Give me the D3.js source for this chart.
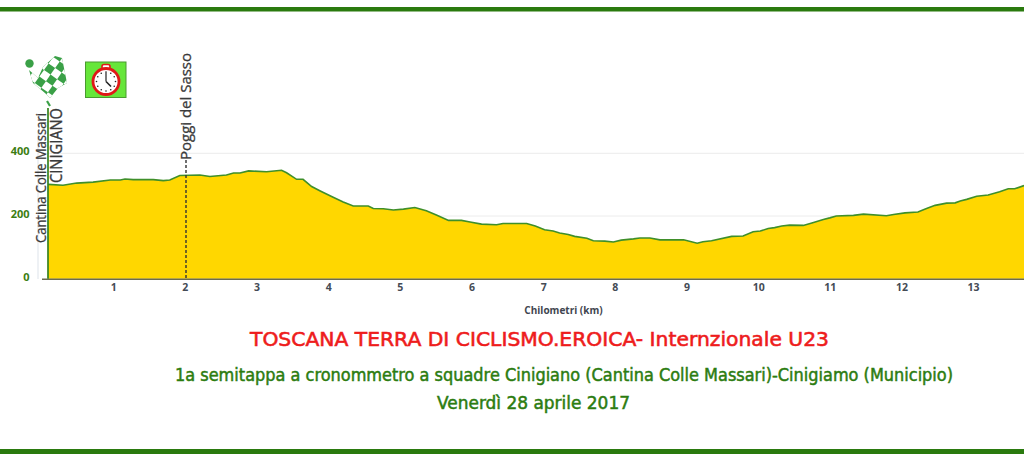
<!DOCTYPE html>
<html><head><meta charset="utf-8">
<script src="https://cdn.jsdelivr.net/npm/d3@7"></script>
<style>html,body{margin:0;padding:0;background:#fff;overflow:hidden}svg{display:block}</style>
</head><body><svg id="c" width="1024" height="460"></svg>
<script>
const km = [0.095,0.30,0.49,0.72,0.96,1.10,1.165,1.28,1.56,1.70,1.79,1.93,2.21,2.35,2.58,2.68,2.77,2.89,3.14,3.35,3.42,3.56,3.65,3.77,3.89,4.07,4.21,4.35,4.56,4.63,4.77,4.91,5.05,5.21,5.37,5.51,5.68,5.86,5.98,6.14,6.35,6.44,6.77,6.89,7.02,7.14,7.23,7.35,7.44,7.61,7.70,7.86,7.98,8.09,8.26,8.35,8.49,8.63,8.96,9.15,9.23,9.35,9.63,9.79,9.93,10.03,10.14,10.23,10.33,10.44,10.63,10.75,10.91,11.0,11.09,11.33,11.47,11.79,11.89,12.05,12.23,12.35,12.47,12.63,12.75,12.82,12.91,13.05,13.21,13.37,13.49,13.58,13.71];
const elev = [301,298,305,308,315,315,318,316,316,313,315,329,331,326,331,337,337,344,341,346,338,317,317,294,280,260,245,232,232,224,223,219,222,227,217,203,186,186,181,174,172,176,176,168,156,152,146,141,135,129,121,120,117,123,127,130,130,124,124,113,118,121,135,136,150,152,160,163,168,171,170,178,189,194,200,202,206,201,205,210,213,224,234,241,242,248,253,263,267,277,287,287,297];
const xTicks = [1,2,3,4,5,6,7,8,9,10,11,12,13];
const yTicks = [0,200,400];
const title = "TOSCANA TERRA DI CICLISMO.EROICA- Internzionale U23";
const subtitle = "1a semitappa a cronommetro a squadre Cinigiano (Cantina Colle Massari)-Cinigiamo (Municipio)";
const dateLine = "Venerdì 28 aprile 2017";
const xLabel = "Chilometri (km)";
const places = ["Cantina Colle Massari","CINIGIANO","Poggi del Sasso"];

const GREEN="#2a7a0e", FS="'Open Sans','Noto Sans',sans-serif";
const svg=d3.select("#c");
const x=d3.scaleLinear().domain([0,13.71]).range([41.5,1024]);
const y=d3.scaleLinear().domain([0,400]).range([278.7,153.3]);
const pts=km.map((k,i)=>[k,elev[i]]);

svg.append("rect").attr("x",0).attr("y",7).attr("width",1024).attr("height",4.5).attr("fill",GREEN);
svg.append("rect").attr("x",0).attr("y",449).attr("width",1024).attr("height",5).attr("fill",GREEN);

svg.append("g").selectAll("line").data(yTicks.slice(1)).join("line")
 .attr("x1",41).attr("x2",1024).attr("y1",d=>y(d)).attr("y2",d=>y(d)).attr("stroke","#ececec").attr("stroke-width",1);
svg.append("line").attr("x1",38).attr("x2",38).attr("y1",130).attr("y2",279).attr("stroke","#dde3ea");

svg.append("path").datum(pts).attr("fill","#ffd700")
 .attr("d",d3.area().x(d=>x(d[0])).y0(y(0)).y1(d=>y(d[1])));
svg.append("path").datum(pts).attr("fill","none").attr("stroke","#3f8f2a").attr("stroke-width",1.6)
 .attr("d",d3.line().x(d=>x(d[0])).y(d=>y(d[1])));

const gx=svg.append("g").attr("transform",`translate(0,${y(0)})`)
 .call(d3.axisBottom(x).tickValues(xTicks).tickSize(0).tickPadding(5));
gx.select(".domain").attr("stroke","#6b6b50").attr("stroke-width",1.5);
gx.selectAll("text").attr("font-family",FS).attr("font-weight",700).attr("font-size",10.5).attr("fill","#444b55");
const gy=svg.append("g").attr("transform","translate(31.5,-2)")
 .call(d3.axisLeft(y).tickValues(yTicks).tickSize(0).tickPadding(2));
gy.select(".domain").remove();
gy.selectAll("text").attr("font-family",FS).attr("font-weight",700).attr("font-size",11).attr("fill","#3c7d12");

svg.append("text").attr("x",563.5).attr("y",314).attr("text-anchor","middle").attr("font-family",FS)
 .attr("font-weight",700).attr("font-size",10).attr("fill","#3f4650").text(xLabel);

svg.append("line").attr("x1",48).attr("x2",48).attr("y1",108).attr("y2",y(0)).attr("stroke",GREEN).attr("stroke-width",1.6);
svg.append("line").attr("x1",186).attr("x2",186).attr("y1",160).attr("y2",y(0))
 .attr("stroke","#333").attr("stroke-width",1.4).attr("stroke-dasharray","3,2");

function vtext(px,py,t,fs,len,sw){
 svg.append("text").attr("transform",`translate(${px},${py}) rotate(-90)`).attr("font-family",FS)
  .attr("font-size",fs).attr("fill","#3a3a3a").attr("stroke","#3a3a3a").attr("stroke-width",sw)
  .attr("textLength",len).attr("lengthAdjust","spacingAndGlyphs").text(t);
}
vtext(46,243,places[0],14,130,.25);
vtext(62,183,places[1],15.5,75,.35);
vtext(190.5,160,places[2],15,107,.3);

const flag=svg.append("g");
flag.append("circle").attr("cx",29.5).attr("cy",63.5).attr("r",4.2).attr("fill","#3aa047");
const flagShape="M29,70 L38,78 L43,67 L55,56 L62,58 L67,83 L58,88 L50,98 L45,93 L33,83 Z";
svg.append("clipPath").attr("id","fc").append("path").attr("d",flagShape);
flag.append("path").attr("d",flagShape).attr("fill","#3aa047");
const cg=flag.append("g").attr("clip-path","url(#fc)");
const cells=d3.range(-5,6).flatMap(i=>d3.range(-5,6).filter(j=>Math.abs(i+j)%2===0).map(j=>[i,j]));
cg.selectAll("rect").data(cells).join("rect").attr("x",0).attr("y",0).attr("width",8).attr("height",8).attr("fill","#fff")
 .attr("transform",d=>`translate(44,70) rotate(35) translate(${d[0]*8},${d[1]*8})`);
flag.append("line").attr("x1",47).attr("y1",101).attr("x2",50).attr("y2",106).attr("stroke","#3aa047").attr("stroke-width",2.2);

svg.append("rect").attr("x",85.5).attr("y",62).attr("width",40.5).attr("height",35.5).attr("fill","#66e63a").attr("stroke","#4a9a30");
const sw=svg.append("g").attr("transform","translate(106,81.5)");
sw.append("rect").attr("x",-4).attr("y",-17).attr("width",8).attr("height",5).attr("rx",2).attr("fill","#fff").attr("stroke","#e01818").attr("stroke-width",1.6);
sw.append("circle").attr("r",13).attr("fill","#fff").attr("stroke","#e01818").attr("stroke-width",2.8);
d3.range(12).forEach(i=>{const a=i*Math.PI/6;sw.append("circle").attr("cx",9.5*Math.sin(a)).attr("cy",-9.5*Math.cos(a)).attr("r",.8).attr("fill","#222");});
sw.append("line").attr("x1",0).attr("y1",0).attr("x2",0).attr("y2",-9).attr("stroke","#222").attr("stroke-width",1.2);
sw.append("line").attr("x1",0).attr("y1",0).attr("x2",5).attr("y2",5).attr("stroke","#222").attr("stroke-width",1.6);

function line(t,x1,x2,base,fs,col,s){
 svg.append("text").attr("x",x1).attr("y",base).attr("font-family","'DejaVu Sans',sans-serif").attr("font-size",fs)
  .attr("fill",col).attr("stroke",col).attr("stroke-width",s).attr("textLength",x2-x1).attr("lengthAdjust","spacingAndGlyphs").text(t);
}
line(title,250,829,346,20,"#ee1c1c",.6);
line(subtitle,175,953,381,17,"#2c7c10",.5);
line(dateLine,437,630,409,17,"#2c7c10",.5);
</script></body></html>
